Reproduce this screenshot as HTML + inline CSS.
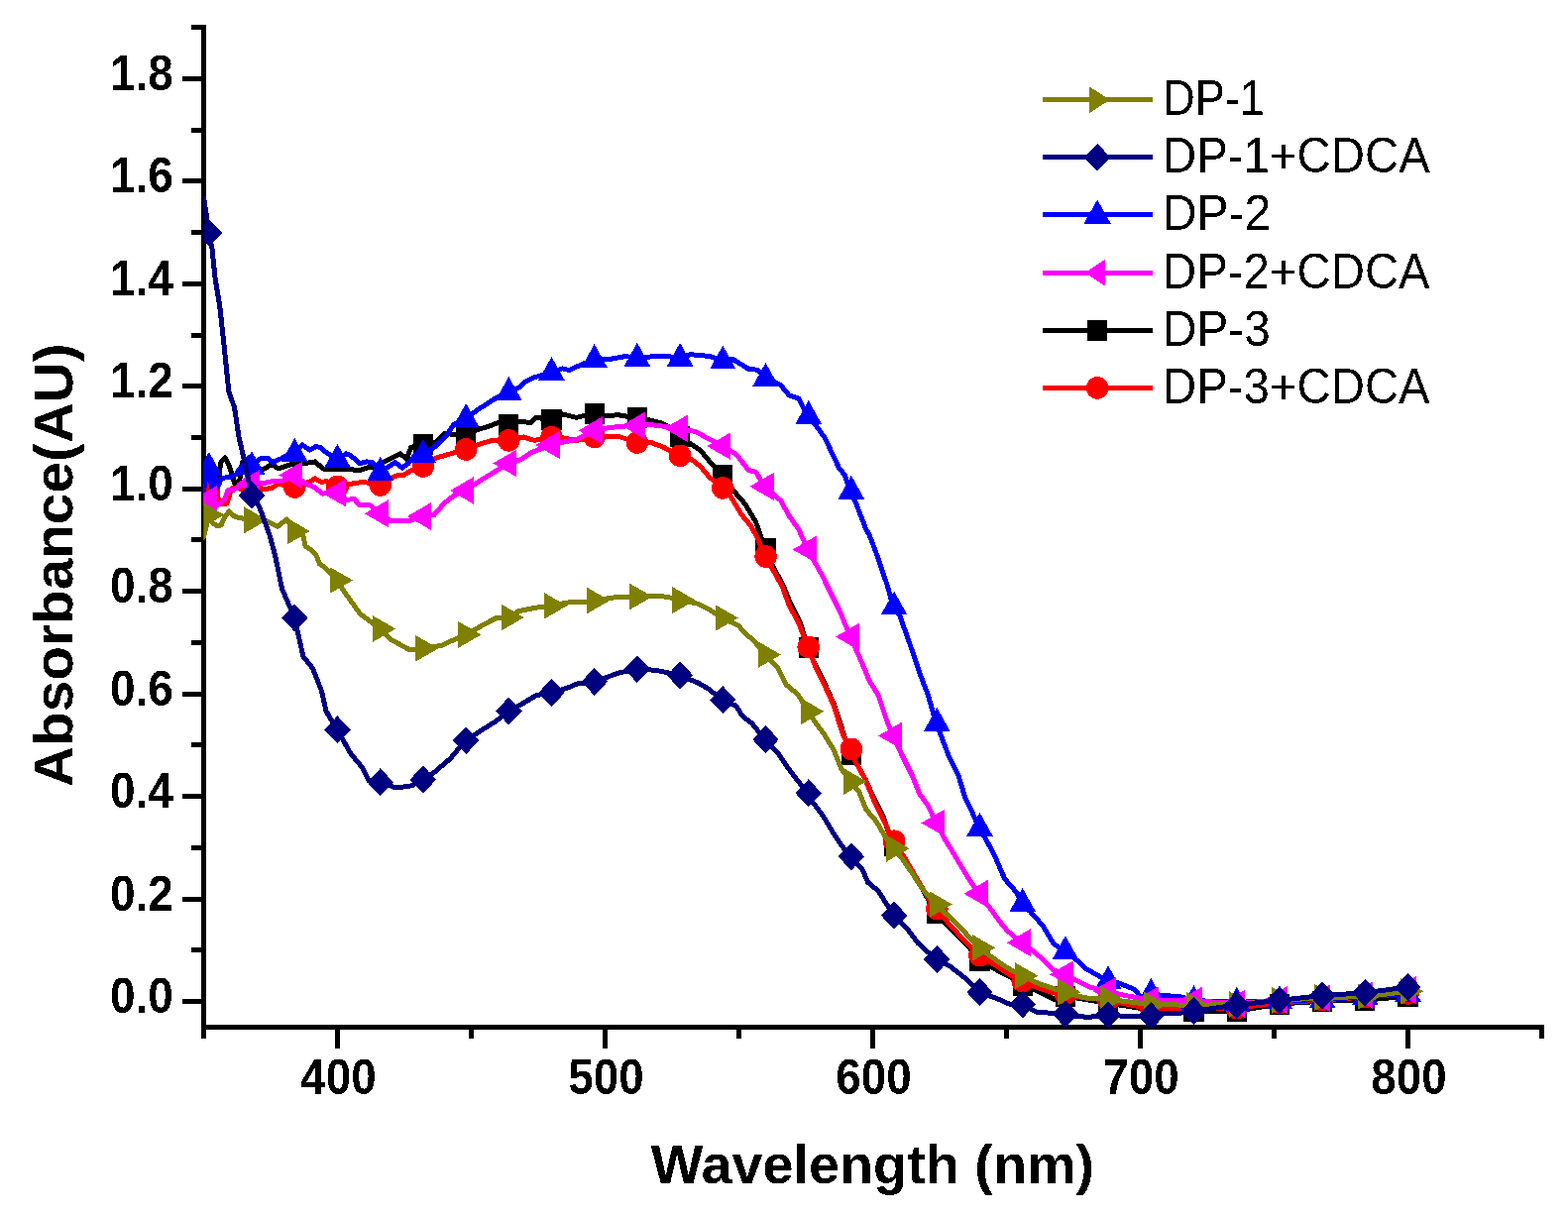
<!DOCTYPE html>
<html><head><meta charset="utf-8"><title>Absorbance spectra</title>
<style>html,body{margin:0;padding:0;background:#fff;}svg{display:block;}text{font-family:"Liberation Sans",Arial,sans-serif;}</style></head><body>
<svg width="1582" height="1227" viewBox="0 0 1582 1227" shape-rendering="crispEdges">
<rect width="1582" height="1227" fill="#fff"/>
<defs><clipPath id="pc"><rect x="205.3" y="20" width="1360" height="1016.5"/></clipPath><filter id="bint"><feComponentTransfer><feFuncA type="discrete" tableValues="0 1"/></feComponentTransfer></filter></defs>
<g stroke="#000" stroke-width="5" fill="none" stroke-linecap="butt">
<line x1="205.5" y1="25" x2="205.5" y2="1047.8"/>
<line x1="203" y1="1036.5" x2="1557.8" y2="1036.5"/>
<line x1="184" y1="1010.50" x2="206" y2="1010.50"/>
<line x1="193" y1="958.77" x2="206" y2="958.77"/>
<line x1="184" y1="907.04" x2="206" y2="907.04"/>
<line x1="193" y1="855.31" x2="206" y2="855.31"/>
<line x1="184" y1="803.58" x2="206" y2="803.58"/>
<line x1="193" y1="751.85" x2="206" y2="751.85"/>
<line x1="184" y1="700.12" x2="206" y2="700.12"/>
<line x1="193" y1="648.39" x2="206" y2="648.39"/>
<line x1="184" y1="596.66" x2="206" y2="596.66"/>
<line x1="193" y1="544.93" x2="206" y2="544.93"/>
<line x1="184" y1="493.20" x2="206" y2="493.20"/>
<line x1="193" y1="441.47" x2="206" y2="441.47"/>
<line x1="184" y1="389.74" x2="206" y2="389.74"/>
<line x1="193" y1="338.01" x2="206" y2="338.01"/>
<line x1="184" y1="286.28" x2="206" y2="286.28"/>
<line x1="193" y1="234.55" x2="206" y2="234.55"/>
<line x1="184" y1="182.82" x2="206" y2="182.82"/>
<line x1="193" y1="131.09" x2="206" y2="131.09"/>
<line x1="184" y1="79.36" x2="206" y2="79.36"/>
<line x1="193" y1="27.4" x2="208" y2="27.4"/>
<line x1="205.50" y1="1036" x2="205.50" y2="1047.8"/>
<line x1="340.50" y1="1036" x2="340.50" y2="1057.8"/>
<line x1="475.50" y1="1036" x2="475.50" y2="1047.8"/>
<line x1="610.50" y1="1036" x2="610.50" y2="1057.8"/>
<line x1="745.50" y1="1036" x2="745.50" y2="1047.8"/>
<line x1="880.50" y1="1036" x2="880.50" y2="1057.8"/>
<line x1="1015.50" y1="1036" x2="1015.50" y2="1047.8"/>
<line x1="1150.50" y1="1036" x2="1150.50" y2="1057.8"/>
<line x1="1285.50" y1="1036" x2="1285.50" y2="1047.8"/>
<line x1="1420.50" y1="1036" x2="1420.50" y2="1057.8"/>
<line x1="1555.50" y1="1036" x2="1555.50" y2="1047.8"/>
</g>
<g clip-path="url(#pc)">
<polyline points="205.5,478.0 212.0,472.0 216.0,486.0 218.4,489.0 221.5,478.0 222.5,467.0 227.0,461.5 231.5,470.5 234.0,479.0 237.0,489.0 241.7,485.0 244.5,466.0 250.0,472.0 254.0,479.0 258.0,474.0 266.8,473.0 274.0,468.6 281.0,473.0 293.7,468.6 307.2,467.6 317.9,465.9 326.0,473.0 335.9,473.9 350.2,473.0 361.8,474.8 369.9,472.1 376.2,471.2 389.6,465.0 396.8,461.4 404.0,457.8 410.2,463.2 414.7,451.5 426.6,448.6 440.0,446.2 448.8,437.3 469.7,440.0 480.7,433.8 493.1,430.3 501.9,426.7 512.9,428.4 525.0,425.0 535.6,426.7 540.9,421.4 556.0,423.4 567.4,417.9 581.6,421.4 588.7,419.6 599.2,417.4 609.9,419.6 624.1,418.8 642.3,421.7 652.4,423.2 666.5,426.7 677.2,432.0 685.4,440.1 696.1,447.5 706.9,454.7 715.8,465.5 728.6,479.3 740.9,496.0 751.7,508.5 762.5,526.4 771.7,553.6 781.0,574.0 790.0,590.0 798.0,610.0 807.0,627.0 814.9,653.8 824.0,674.0 833.0,692.0 842.0,712.0 851.0,740.0 858.0,761.5 864.0,770.0 873.0,786.0 883.0,808.0 892.0,826.0 901.1,853.8 912.0,866.0 925.0,887.0 935.0,905.0 944.3,921.0 953.0,931.0 978.0,956.0 987.4,969.0 1006.0,979.0 1024.0,988.0 1030.6,994.6 1047.0,1000.0 1065.0,1009.0 1073.7,1005.0 1116.8,1012.0 1161.3,1019.0 1204.5,1020.2 1247.7,1020.2 1290.9,1013.0 1334.1,1010.2 1377.3,1009.2 1420.5,1005.1" fill="none" stroke="#000000" stroke-width="5.0" stroke-linejoin="round" stroke-linecap="round"/>
<rect x="416.8" y="438.1" width="20.2" height="21" fill="#000000"/>
<rect x="460.0" y="429.5" width="20.2" height="21" fill="#000000"/>
<rect x="503.2" y="417.9" width="20.2" height="21" fill="#000000"/>
<rect x="546.4" y="412.9" width="20.2" height="21" fill="#000000"/>
<rect x="589.6" y="406.9" width="20.2" height="21" fill="#000000"/>
<rect x="632.8" y="411.2" width="20.2" height="21" fill="#000000"/>
<rect x="676.0" y="429.6" width="20.2" height="21" fill="#000000"/>
<rect x="719.2" y="468.8" width="20.2" height="21" fill="#000000"/>
<rect x="762.4" y="543.1" width="20.2" height="21" fill="#000000"/>
<rect x="805.6" y="643.3" width="20.2" height="21" fill="#000000"/>
<rect x="848.8" y="751.0" width="20.2" height="21" fill="#000000"/>
<rect x="892.0" y="843.3" width="20.2" height="21" fill="#000000"/>
<rect x="935.2" y="910.5" width="20.2" height="21" fill="#000000"/>
<rect x="978.4" y="958.5" width="20.2" height="21" fill="#000000"/>
<rect x="1021.6" y="984.1" width="20.2" height="21" fill="#000000"/>
<rect x="1064.8" y="994.5" width="20.2" height="21" fill="#000000"/>
<rect x="1108.0" y="1001.5" width="20.2" height="21" fill="#000000"/>
<rect x="1151.2" y="1005.5" width="20.2" height="21" fill="#000000"/>
<rect x="1194.4" y="1009.7" width="20.2" height="21" fill="#000000"/>
<rect x="1237.6" y="1009.7" width="20.2" height="21" fill="#000000"/>
<rect x="1280.8" y="1002.5" width="20.2" height="21" fill="#000000"/>
<rect x="1324.0" y="999.7" width="20.2" height="21" fill="#000000"/>
<rect x="1367.2" y="998.7" width="20.2" height="21" fill="#000000"/>
<rect x="1410.4" y="994.6" width="20.2" height="21" fill="#000000"/>
<polyline points="205.5,495.0 210.9,497.0 215.0,495.0 219.0,500.0 222.0,508.0 229.0,508.0 233.6,492.8 239.9,491.9 248.5,496.4 254.0,494.0 274.0,492.8 280.2,488.3 297.2,491.5 313.4,485.6 317.9,482.9 324.2,486.5 329.6,485.6 340.3,491.0 350.2,489.2 358.3,487.4 367.2,486.5 383.5,489.5 398.6,480.2 407.6,479.3 414.7,474.8 426.6,470.5 440.0,462.1 469.7,453.5 484.2,448.0 496.6,444.4 512.9,444.4 528.5,440.9 539.1,444.4 556.0,441.2 567.4,441.8 581.6,444.4 599.2,440.9 613.5,440.9 625.8,440.9 642.3,446.5 656.0,446.2 670.1,451.5 685.4,459.8 697.9,463.7 706.9,470.9 715.8,481.6 728.6,492.4 737.4,501.3 748.1,519.2 757.1,530.0 764.2,542.5 771.7,561.5 780.4,575.8 789.3,592.0 796.5,611.7 805.5,627.8 814.9,652.9 823.4,674.4 832.4,692.4 841.3,712.1 850.3,740.8 858.0,755.8 863.0,768.4 872.0,784.5 882.7,809.6 891.7,827.5 901.1,848.7 911.4,863.4 924.0,884.9 934.7,902.8 944.3,917.2 960.0,935.0 972.0,948.0 987.4,964.0 1006.0,975.0 1018.0,983.0 1030.6,990.0 1048.0,997.0 1060.0,1001.0 1073.7,1003.0 1095.0,1007.0 1116.8,1009.0 1161.3,1018.0 1204.5,1018.0 1247.7,1017.0 1290.9,1012.0 1334.1,1009.0 1377.3,1006.0 1420.5,1002.4" fill="none" stroke="#ff0000" stroke-width="5.0" stroke-linejoin="round" stroke-linecap="round"/>
<circle cx="210.9" cy="497.0" r="11.3" fill="#ff0000"/>
<circle cx="254.1" cy="494.0" r="11.3" fill="#ff0000"/>
<circle cx="297.3" cy="491.5" r="11.3" fill="#ff0000"/>
<circle cx="340.5" cy="491.0" r="11.3" fill="#ff0000"/>
<circle cx="383.7" cy="489.5" r="11.3" fill="#ff0000"/>
<circle cx="426.9" cy="470.5" r="11.3" fill="#ff0000"/>
<circle cx="470.1" cy="453.5" r="11.3" fill="#ff0000"/>
<circle cx="513.3" cy="444.4" r="11.3" fill="#ff0000"/>
<circle cx="556.5" cy="441.2" r="11.3" fill="#ff0000"/>
<circle cx="599.7" cy="440.9" r="11.3" fill="#ff0000"/>
<circle cx="642.9" cy="446.5" r="11.3" fill="#ff0000"/>
<circle cx="686.1" cy="459.8" r="11.3" fill="#ff0000"/>
<circle cx="729.3" cy="492.4" r="11.3" fill="#ff0000"/>
<circle cx="772.5" cy="561.5" r="11.3" fill="#ff0000"/>
<circle cx="815.7" cy="652.9" r="11.3" fill="#ff0000"/>
<circle cx="858.9" cy="755.8" r="11.3" fill="#ff0000"/>
<circle cx="902.1" cy="848.7" r="11.3" fill="#ff0000"/>
<circle cx="945.3" cy="917.2" r="11.3" fill="#ff0000"/>
<circle cx="988.5" cy="964.0" r="11.3" fill="#ff0000"/>
<circle cx="1031.7" cy="990.0" r="11.3" fill="#ff0000"/>
<circle cx="1074.9" cy="1003.0" r="11.3" fill="#ff0000"/>
<circle cx="1118.1" cy="1009.0" r="11.3" fill="#ff0000"/>
<circle cx="1161.3" cy="1018.0" r="11.3" fill="#ff0000"/>
<circle cx="1204.5" cy="1018.0" r="11.3" fill="#ff0000"/>
<circle cx="1247.7" cy="1017.0" r="11.3" fill="#ff0000"/>
<circle cx="1290.9" cy="1012.0" r="11.3" fill="#ff0000"/>
<circle cx="1334.1" cy="1009.0" r="11.3" fill="#ff0000"/>
<circle cx="1377.3" cy="1006.0" r="11.3" fill="#ff0000"/>
<circle cx="1420.5" cy="1002.4" r="11.3" fill="#ff0000"/>
<polyline points="205.5,495.0 208.0,480.0 211.0,471.4 213.5,492.0 216.5,481.0 219.5,492.0 223.0,483.0 227.0,482.0 233.0,481.0 238.0,479.0 241.0,474.0 245.7,469.0 251.0,462.0 254.1,470.7 262.0,463.0 270.0,462.0 275.7,467.0 279.7,464.3 284.3,462.5 288.0,460.0 297.2,457.5 305.0,449.0 312.5,454.2 318.8,450.6 323.3,451.5 329.6,456.9 340.3,463.4 349.3,457.8 353.8,459.6 362.7,467.6 369.9,465.9 376.2,466.7 383.5,476.4 393.2,470.3 398.6,466.7 405.8,472.1 412.0,467.6 419.2,458.7 426.6,458.5 438.0,451.5 450.6,439.1 457.7,428.5 469.7,422.4 480.7,414.3 498.4,402.8 512.9,395.5 523.2,391.3 530.3,385.1 539.1,380.7 546.2,378.9 556.0,375.5 567.4,371.9 574.5,373.6 581.6,370.1 599.2,362.6 617.0,362.1 631.2,359.5 642.3,361.3 661.2,359.5 670.1,359.1 685.4,361.3 696.6,357.7 716.1,359.5 728.6,364.1 739.2,362.4 755.3,372.3 764.2,373.2 771.7,381.5 787.5,388.4 796.5,399.2 805.5,401.8 814.9,419.5 823.4,429.6 832.4,442.2 846.7,472.6 852.0,478.9 858.0,495.3 864.6,510.3 873.6,533.6 877.2,540.0 884.3,558.7 895.1,590.2 901.1,612.0 907.6,620.7 918.4,651.1 927.4,678.0 936.3,701.3 944.3,729.3 949.1,741.5 958.0,764.8 967.0,782.7 974.1,806.0 981.3,820.4 987.4,835.3 993.9,845.5 1002.8,861.6 1013.6,886.7 1026.1,901.0 1030.6,911.6 1039.8,920.2 1052.2,934.3 1062.8,952.0 1073.7,959.6 1087.6,969.7 1094.7,976.8 1107.1,983.9 1116.8,989.7 1128.3,991.9 1144.2,998.1 1151.0,1006.0 1161.3,1002.5 1170.0,1004.0 1192.0,1006.0 1204.5,1009.5 1247.7,1011.4 1290.9,1009.6 1334.1,1008.7 1377.3,1005.8 1420.5,1002.3" fill="none" stroke="#0000ff" stroke-width="5.0" stroke-linejoin="round" stroke-linecap="round"/>
<polygon points="197.7,479.7 210.9,456.0 224.1,479.7" fill="#0000ff"/>
<polygon points="240.9,478.9 254.1,455.2 267.3,478.9" fill="#0000ff"/>
<polygon points="284.1,465.7 297.3,442.0 310.5,465.7" fill="#0000ff"/>
<polygon points="327.3,471.6 340.5,447.9 353.7,471.6" fill="#0000ff"/>
<polygon points="370.5,484.6 383.7,460.9 396.9,484.6" fill="#0000ff"/>
<polygon points="413.7,466.7 426.9,443.0 440.1,466.7" fill="#0000ff"/>
<polygon points="456.9,430.6 470.1,406.9 483.3,430.6" fill="#0000ff"/>
<polygon points="500.1,403.7 513.3,380.0 526.5,403.7" fill="#0000ff"/>
<polygon points="543.3,383.7 556.5,360.0 569.7,383.7" fill="#0000ff"/>
<polygon points="586.5,370.8 599.7,347.1 612.9,370.8" fill="#0000ff"/>
<polygon points="629.7,369.5 642.9,345.8 656.1,369.5" fill="#0000ff"/>
<polygon points="672.9,369.5 686.1,345.8 699.3,369.5" fill="#0000ff"/>
<polygon points="716.1,372.3 729.3,348.6 742.5,372.3" fill="#0000ff"/>
<polygon points="759.3,389.7 772.5,366.0 785.7,389.7" fill="#0000ff"/>
<polygon points="802.5,427.7 815.7,404.0 828.9,427.7" fill="#0000ff"/>
<polygon points="845.7,503.5 858.9,479.8 872.1,503.5" fill="#0000ff"/>
<polygon points="888.9,620.2 902.1,596.5 915.3,620.2" fill="#0000ff"/>
<polygon points="932.1,737.5 945.3,713.8 958.5,737.5" fill="#0000ff"/>
<polygon points="975.3,843.5 988.5,819.8 1001.7,843.5" fill="#0000ff"/>
<polygon points="1018.5,919.8 1031.7,896.1 1044.9,919.8" fill="#0000ff"/>
<polygon points="1061.7,967.8 1074.9,944.1 1088.1,967.8" fill="#0000ff"/>
<polygon points="1104.9,997.9 1118.1,974.2 1131.3,997.9" fill="#0000ff"/>
<polygon points="1148.1,1010.7 1161.3,987.0 1174.5,1010.7" fill="#0000ff"/>
<polygon points="1191.3,1017.7 1204.5,994.0 1217.7,1017.7" fill="#0000ff"/>
<polygon points="1234.5,1019.6 1247.7,995.9 1260.9,1019.6" fill="#0000ff"/>
<polygon points="1277.7,1017.8 1290.9,994.1 1304.1,1017.8" fill="#0000ff"/>
<polygon points="1320.9,1016.9 1334.1,993.2 1347.3,1016.9" fill="#0000ff"/>
<polygon points="1364.1,1014.0 1377.3,990.3 1390.5,1014.0" fill="#0000ff"/>
<polygon points="1407.3,1010.5 1420.5,986.8 1433.7,1010.5" fill="#0000ff"/>
<polyline points="205.5,503.5 210.9,504.0 217.5,510.7 226.4,504.4 230.0,494.6 235.4,494.6 244.4,488.3 248.8,483.0 254.0,488.0 266.8,487.4 275.7,485.6 284.7,485.6 297.2,479.4 309.0,488.3 317.9,491.8 325.1,498.1 340.7,497.3 350.2,504.4 357.4,503.5 362.7,509.8 373.5,509.8 384.2,518.2 394.1,525.9 403.1,525.9 412.0,525.9 427.2,521.0 438.0,519.6 448.0,508.0 458.0,500.0 469.7,495.0 484.2,485.1 493.1,479.8 512.9,467.5 525.0,463.9 535.6,456.8 556.0,449.0 567.4,446.2 581.6,443.5 599.2,434.3 611.7,432.0 625.8,430.3 642.3,429.4 656.0,428.5 670.1,430.3 685.4,432.4 701.9,435.6 712.3,441.3 728.6,450.2 742.7,458.3 755.3,474.4 762.5,476.2 771.7,490.9 787.5,504.9 796.5,521.0 805.5,533.6 814.9,554.5 828.8,579.4 837.7,597.4 846.7,615.3 858.0,642.5 868.2,665.5 877.2,687.0 886.1,701.3 895.1,728.2 901.1,742.4 909.6,761.2 920.4,782.7 927.5,800.7 936.5,813.2 944.3,830.4 952.6,845.5 963.4,863.4 974.1,881.3 987.4,901.8 999.1,916.6 1008.0,929.0 1016.8,939.6 1030.6,951.2 1041.6,959.1 1054.0,969.7 1062.8,978.6 1073.7,983.2 1082.3,987.4 1100.0,996.3 1116.8,999.8 1130.1,1003.4 1147.8,1006.9 1161.3,1009.0 1204.5,1009.7 1247.7,1012.8 1290.9,1009.0 1334.1,1007.1 1377.3,1004.2 1420.5,999.0" fill="none" stroke="#ff00ff" stroke-width="5.0" stroke-linejoin="round" stroke-linecap="round"/>
<polygon points="218.9,490.1 194.9,504.0 218.9,517.9" fill="#ff00ff"/>
<polygon points="262.1,474.1 238.1,488.0 262.1,501.9" fill="#ff00ff"/>
<polygon points="305.3,465.5 281.3,479.4 305.3,493.3" fill="#ff00ff"/>
<polygon points="348.5,483.4 324.5,497.3 348.5,511.2" fill="#ff00ff"/>
<polygon points="391.7,504.3 367.7,518.2 391.7,532.1" fill="#ff00ff"/>
<polygon points="434.9,507.1 410.9,521.0 434.9,534.9" fill="#ff00ff"/>
<polygon points="478.1,481.1 454.1,495.0 478.1,508.9" fill="#ff00ff"/>
<polygon points="521.3,453.6 497.3,467.5 521.3,481.4" fill="#ff00ff"/>
<polygon points="564.5,435.1 540.5,449.0 564.5,462.9" fill="#ff00ff"/>
<polygon points="607.7,420.4 583.7,434.3 607.7,448.2" fill="#ff00ff"/>
<polygon points="650.9,415.5 626.9,429.4 650.9,443.3" fill="#ff00ff"/>
<polygon points="694.1,418.4 670.1,432.3 694.1,446.2" fill="#ff00ff"/>
<polygon points="737.3,436.3 713.3,450.2 737.3,464.1" fill="#ff00ff"/>
<polygon points="780.5,477.0 756.5,490.9 780.5,504.8" fill="#ff00ff"/>
<polygon points="823.7,540.6 799.7,554.5 823.7,568.4" fill="#ff00ff"/>
<polygon points="866.9,628.6 842.9,642.5 866.9,656.4" fill="#ff00ff"/>
<polygon points="910.1,728.5 886.1,742.4 910.1,756.3" fill="#ff00ff"/>
<polygon points="953.3,816.5 929.3,830.4 953.3,844.3" fill="#ff00ff"/>
<polygon points="996.5,887.9 972.5,901.8 996.5,915.7" fill="#ff00ff"/>
<polygon points="1039.7,937.3 1015.7,951.2 1039.7,965.1" fill="#ff00ff"/>
<polygon points="1082.9,969.3 1058.9,983.2 1082.9,997.1" fill="#ff00ff"/>
<polygon points="1126.1,985.9 1102.1,999.8 1126.1,1013.7" fill="#ff00ff"/>
<polygon points="1169.3,995.1 1145.3,1009.0 1169.3,1022.9" fill="#ff00ff"/>
<polygon points="1212.5,995.8 1188.5,1009.7 1212.5,1023.6" fill="#ff00ff"/>
<polygon points="1255.7,998.9 1231.7,1012.8 1255.7,1026.7" fill="#ff00ff"/>
<polygon points="1298.9,995.1 1274.9,1009.0 1298.9,1022.9" fill="#ff00ff"/>
<polygon points="1342.1,993.2 1318.1,1007.1 1342.1,1021.0" fill="#ff00ff"/>
<polygon points="1385.3,990.3 1361.3,1004.2 1385.3,1018.1" fill="#ff00ff"/>
<polygon points="1428.5,985.1 1404.5,999.0 1428.5,1012.9" fill="#ff00ff"/>
<polyline points="205.5,542.0 208.0,532.0 210.9,519.5 214.0,527.0 219.0,531.0 223.0,530.0 226.5,522.0 231.0,516.0 235.0,520.0 239.0,522.0 243.0,522.0 246.0,524.0 254.0,524.8 262.0,524.0 269.5,526.0 280.2,531.3 289.2,524.0 297.2,535.5 306.0,541.0 308.0,551.0 314.0,555.0 319.0,560.0 322.5,569.0 329.0,573.5 340.3,585.5 347.0,596.5 363.0,619.0 383.5,634.5 395.0,645.6 413.4,655.8 426.6,654.3 445.4,651.3 469.7,640.4 493.5,627.3 500.5,623.7 512.9,623.0 523.5,616.6 541.2,613.1 556.0,611.3 577.0,607.2 590.0,607.8 599.2,606.0 617.4,603.2 627.8,602.0 642.3,602.0 664.3,601.3 674.7,602.6 685.4,605.6 703.4,609.1 716.5,615.6 728.6,623.5 745.1,631.3 753.0,640.4 760.0,645.6 771.7,660.6 784.0,672.6 792.9,690.6 805.5,701.3 814.9,717.8 823.4,730.0 830.8,739.7 841.3,756.9 848.7,775.6 858.0,788.5 866.6,798.9 873.8,816.8 884.5,829.3 891.7,841.9 901.1,856.2 909.6,865.2 920.4,881.3 931.1,897.5 944.3,912.6 960.2,927.3 970.8,937.9 987.4,956.3 1006.2,969.7 1016.8,976.8 1030.6,984.6 1048.7,992.7 1059.3,996.3 1073.7,1001.1 1094.7,1006.9 1116.8,1008.3 1161.3,1013.5 1204.5,1014.3 1247.7,1013.5 1290.9,1009.4 1334.1,1006.6 1377.3,1005.6 1420.5,1000.3" fill="none" stroke="#808000" stroke-width="5.0" stroke-linejoin="round" stroke-linecap="round"/>
<polygon points="203.2,506.1 226.4,519.5 203.2,532.9" fill="#808000"/>
<polygon points="246.4,511.4 269.6,524.8 246.4,538.2" fill="#808000"/>
<polygon points="289.6,522.6 312.8,536.0 289.6,549.4" fill="#808000"/>
<polygon points="332.8,572.1 356.0,585.5 332.8,598.9" fill="#808000"/>
<polygon points="376.0,621.1 399.2,634.5 376.0,647.9" fill="#808000"/>
<polygon points="419.1,640.9 442.4,654.3 419.1,667.7" fill="#808000"/>
<polygon points="462.4,627.0 485.6,640.4 462.4,653.8" fill="#808000"/>
<polygon points="505.6,609.6 528.8,623.0 505.6,636.4" fill="#808000"/>
<polygon points="548.8,597.9 572.0,611.3 548.8,624.7" fill="#808000"/>
<polygon points="592.0,592.6 615.2,606.0 592.0,619.4" fill="#808000"/>
<polygon points="635.1,588.6 658.4,602.0 635.1,615.4" fill="#808000"/>
<polygon points="678.4,592.2 701.6,605.6 678.4,619.0" fill="#808000"/>
<polygon points="721.6,610.1 744.8,623.5 721.6,636.9" fill="#808000"/>
<polygon points="764.8,647.2 788.0,660.6 764.8,674.0" fill="#808000"/>
<polygon points="808.0,704.4 831.2,717.8 808.0,731.2" fill="#808000"/>
<polygon points="851.1,775.1 874.4,788.5 851.1,801.9" fill="#808000"/>
<polygon points="894.4,842.8 917.6,856.2 894.4,869.6" fill="#808000"/>
<polygon points="937.6,899.2 960.8,912.6 937.6,926.0" fill="#808000"/>
<polygon points="980.8,942.9 1004.0,956.3 980.8,969.7" fill="#808000"/>
<polygon points="1024.0,971.2 1047.2,984.6 1024.0,998.0" fill="#808000"/>
<polygon points="1067.2,987.7 1090.4,1001.1 1067.2,1014.5" fill="#808000"/>
<polygon points="1110.4,994.9 1133.6,1008.3 1110.4,1021.7" fill="#808000"/>
<polygon points="1153.6,1000.1 1176.8,1013.5 1153.6,1026.9" fill="#808000"/>
<polygon points="1196.8,1000.9 1220.0,1014.3 1196.8,1027.7" fill="#808000"/>
<polygon points="1240.0,1000.1 1263.2,1013.5 1240.0,1026.9" fill="#808000"/>
<polygon points="1283.2,996.0 1306.4,1009.4 1283.2,1022.8" fill="#808000"/>
<polygon points="1326.4,993.2 1349.6,1006.6 1326.4,1020.0" fill="#808000"/>
<polygon points="1369.6,992.2 1392.8,1005.6 1369.6,1019.0" fill="#808000"/>
<polygon points="1412.8,986.9 1436.0,1000.3 1412.8,1013.7" fill="#808000"/>
<polyline points="205.7,200.3 211.0,234.9 214.1,251.6 217.1,281.2 221.7,308.6 226.2,349.6 230.8,395.2 236.5,411.2 241.0,440.8 246.7,465.9 254.1,499.8 261.5,511.0 272.0,540.0 277.5,560.0 284.5,594.0 297.2,623.4 306.0,662.7 315.3,674.0 324.4,697.0 329.0,717.5 340.3,736.4 354.0,760.8 365.5,774.5 372.4,788.0 383.5,789.3 399.7,795.0 415.7,792.8 426.6,786.6 438.5,779.0 454.5,765.4 469.7,747.1 484.0,738.0 500.0,728.0 512.9,717.5 523.5,712.2 541.2,701.6 556.0,699.0 573.0,693.9 582.2,690.0 599.2,687.9 617.4,681.5 625.2,678.9 642.3,675.1 661.7,676.3 670.8,678.2 685.4,681.5 703.4,688.6 713.8,694.5 728.6,706.2 742.5,712.1 749.0,722.5 758.9,730.0 771.7,746.1 785.0,760.0 795.0,775.0 805.0,788.0 814.9,800.3 820.0,809.6 830.8,824.0 841.5,841.9 848.7,852.6 858.0,864.3 870.2,877.7 875.6,890.3 886.3,899.2 895.3,913.6 901.1,923.7 910.6,932.6 915.9,937.9 926.5,952.0 944.3,968.0 958.4,975.0 974.3,987.4 987.4,1001.1 1004.4,1006.9 1020.4,1014.0 1030.6,1013.5 1045.1,1021.0 1055.8,1021.9 1073.7,1023.2 1087.6,1025.5 1098.2,1026.4 1116.8,1024.1 1137.2,1025.5 1140.0,1025.5 1161.3,1025.1 1175.0,1022.0 1192.0,1022.0 1204.5,1020.2 1247.7,1014.1 1290.9,1009.3 1334.1,1004.6 1377.3,1001.7 1420.5,996.0" fill="none" stroke="#000080" stroke-width="5.0" stroke-linejoin="round" stroke-linecap="round"/>
<polygon points="210.9,220.9 224.2,234.9 210.9,248.9 197.6,234.9" fill="#000080"/>
<polygon points="254.1,485.8 267.4,499.8 254.1,513.8 240.8,499.8" fill="#000080"/>
<polygon points="297.3,609.4 310.6,623.4 297.3,637.4 284.0,623.4" fill="#000080"/>
<polygon points="340.5,722.4 353.8,736.4 340.5,750.4 327.2,736.4" fill="#000080"/>
<polygon points="383.7,775.3 397.0,789.3 383.7,803.3 370.4,789.3" fill="#000080"/>
<polygon points="426.9,772.6 440.2,786.6 426.9,800.6 413.6,786.6" fill="#000080"/>
<polygon points="470.1,733.1 483.4,747.1 470.1,761.1 456.8,747.1" fill="#000080"/>
<polygon points="513.3,703.5 526.6,717.5 513.3,731.5 500.0,717.5" fill="#000080"/>
<polygon points="556.5,685.0 569.8,699.0 556.5,713.0 543.2,699.0" fill="#000080"/>
<polygon points="599.7,673.9 613.0,687.9 599.7,701.9 586.4,687.9" fill="#000080"/>
<polygon points="642.9,661.1 656.2,675.1 642.9,689.1 629.6,675.1" fill="#000080"/>
<polygon points="686.1,667.5 699.4,681.5 686.1,695.5 672.8,681.5" fill="#000080"/>
<polygon points="729.3,692.2 742.6,706.2 729.3,720.2 716.0,706.2" fill="#000080"/>
<polygon points="772.5,732.1 785.8,746.1 772.5,760.1 759.2,746.1" fill="#000080"/>
<polygon points="815.7,786.3 829.0,800.3 815.7,814.3 802.4,800.3" fill="#000080"/>
<polygon points="858.9,850.3 872.2,864.3 858.9,878.3 845.6,864.3" fill="#000080"/>
<polygon points="902.1,909.7 915.4,923.7 902.1,937.7 888.8,923.7" fill="#000080"/>
<polygon points="945.3,954.0 958.6,968.0 945.3,982.0 932.0,968.0" fill="#000080"/>
<polygon points="988.5,987.1 1001.8,1001.1 988.5,1015.1 975.2,1001.1" fill="#000080"/>
<polygon points="1031.7,999.5 1045.0,1013.5 1031.7,1027.5 1018.4,1013.5" fill="#000080"/>
<polygon points="1074.9,1009.2 1088.2,1023.2 1074.9,1037.2 1061.6,1023.2" fill="#000080"/>
<polygon points="1118.1,1010.1 1131.4,1024.1 1118.1,1038.1 1104.8,1024.1" fill="#000080"/>
<polygon points="1161.3,1011.1 1174.6,1025.1 1161.3,1039.1 1148.0,1025.1" fill="#000080"/>
<polygon points="1204.5,1006.2 1217.8,1020.2 1204.5,1034.2 1191.2,1020.2" fill="#000080"/>
<polygon points="1247.7,1000.1 1261.0,1014.1 1247.7,1028.1 1234.4,1014.1" fill="#000080"/>
<polygon points="1290.9,995.3 1304.2,1009.3 1290.9,1023.3 1277.6,1009.3" fill="#000080"/>
<polygon points="1334.1,990.6 1347.4,1004.6 1334.1,1018.6 1320.8,1004.6" fill="#000080"/>
<polygon points="1377.3,987.7 1390.6,1001.7 1377.3,1015.7 1364.0,1001.7" fill="#000080"/>
<polygon points="1420.5,982.0 1433.8,996.0 1420.5,1010.0 1407.2,996.0" fill="#000080"/>
</g>
<text transform="translate(174.89,1022.00) scale(0.9200,1.0000)" x="0" y="0" font-size="50" text-anchor="end" font-weight="bold" fill="#000" filter="url(#bint)">0.0</text>
<text transform="translate(174.89,918.54) scale(0.9200,1.0000)" x="0" y="0" font-size="50" text-anchor="end" font-weight="bold" fill="#000" filter="url(#bint)">0.2</text>
<text transform="translate(174.89,815.08) scale(0.9200,1.0000)" x="0" y="0" font-size="50" text-anchor="end" font-weight="bold" fill="#000" filter="url(#bint)">0.4</text>
<text transform="translate(174.89,711.62) scale(0.9200,1.0000)" x="0" y="0" font-size="50" text-anchor="end" font-weight="bold" fill="#000" filter="url(#bint)">0.6</text>
<text transform="translate(174.89,608.16) scale(0.9200,1.0000)" x="0" y="0" font-size="50" text-anchor="end" font-weight="bold" fill="#000" filter="url(#bint)">0.8</text>
<text transform="translate(174.89,504.70) scale(0.9200,1.0000)" x="0" y="0" font-size="50" text-anchor="end" font-weight="bold" fill="#000" filter="url(#bint)">1.0</text>
<text transform="translate(174.89,401.24) scale(0.9200,1.0000)" x="0" y="0" font-size="50" text-anchor="end" font-weight="bold" fill="#000" filter="url(#bint)">1.2</text>
<text transform="translate(174.89,297.78) scale(0.9200,1.0000)" x="0" y="0" font-size="50" text-anchor="end" font-weight="bold" fill="#000" filter="url(#bint)">1.4</text>
<text transform="translate(174.89,194.32) scale(0.9200,1.0000)" x="0" y="0" font-size="50" text-anchor="end" font-weight="bold" fill="#000" filter="url(#bint)">1.6</text>
<text transform="translate(174.89,90.86) scale(0.9200,1.0000)" x="0" y="0" font-size="50" text-anchor="end" font-weight="bold" fill="#000" filter="url(#bint)">1.8</text>
<text transform="translate(341.56,1104.00) scale(0.9160,1.0000)" x="0" y="0" font-size="50" text-anchor="middle" font-weight="bold" fill="#000" filter="url(#bint)">400</text>
<text transform="translate(611.56,1104.00) scale(0.9160,1.0000)" x="0" y="0" font-size="50" text-anchor="middle" font-weight="bold" fill="#000" filter="url(#bint)">500</text>
<text transform="translate(881.56,1104.00) scale(0.9160,1.0000)" x="0" y="0" font-size="50" text-anchor="middle" font-weight="bold" fill="#000" filter="url(#bint)">600</text>
<text transform="translate(1151.56,1104.00) scale(0.9160,1.0000)" x="0" y="0" font-size="50" text-anchor="middle" font-weight="bold" fill="#000" filter="url(#bint)">700</text>
<text transform="translate(1421.56,1104.00) scale(0.9160,1.0000)" x="0" y="0" font-size="50" text-anchor="middle" font-weight="bold" fill="#000" filter="url(#bint)">800</text>
<text transform="translate(656.80,1194.40) scale(0.9620,0.9650)" x="0" y="0" font-size="58" text-anchor="start" font-weight="bold" fill="#000" filter="url(#bint)">Wavelength (nm)</text>
<text transform="translate(73.20,793.99) rotate(-90) scale(0.9957,0.9580)" x="0" y="0" font-size="57" text-anchor="start" font-weight="bold" fill="#000" filter="url(#bint)">Absorbance(AU)</text>
<line x1="1052" y1="100.7" x2="1162.5" y2="100.7" stroke="#808000" stroke-width="5.0"/>
<polygon points="1098.9,87.2 1119.9,100.7 1098.9,114.2" fill="#808000"/>
<text transform="translate(1173.20,116.15) scale(0.9009,1.0000)" x="0" y="0" font-size="50" text-anchor="start" fill="#000" filter="url(#bint)">DP-1</text>
<line x1="1052" y1="158.8" x2="1162.5" y2="158.8" stroke="#000080" stroke-width="5.0"/>
<polygon points="1107.2,144.8 1120.5,158.8 1107.2,172.8 1093.9,158.8" fill="#000080"/>
<text transform="translate(1173.01,174.30) scale(0.9477,1.0000)" x="0" y="0" font-size="50" text-anchor="start" fill="#000" filter="url(#bint)">DP-1+CDCA</text>
<line x1="1052" y1="216.9" x2="1162.5" y2="216.9" stroke="#0000ff" stroke-width="5.0"/>
<polygon points="1093.7,225.5 1107.2,201.4 1120.7,225.5" fill="#0000ff"/>
<text transform="translate(1172.96,232.45) scale(0.9589,1.0000)" x="0" y="0" font-size="50" text-anchor="start" fill="#000" filter="url(#bint)">DP-2</text>
<line x1="1052" y1="275.1" x2="1162.5" y2="275.1" stroke="#ff00ff" stroke-width="5.0"/>
<polygon points="1115.1,261.6 1094.6,275.1 1115.1,288.6" fill="#ff00ff"/>
<text transform="translate(1173.01,290.60) scale(0.9470,1.0000)" x="0" y="0" font-size="50" text-anchor="start" fill="#000" filter="url(#bint)">DP-2+CDCA</text>
<line x1="1052" y1="333.2" x2="1162.5" y2="333.2" stroke="#000000" stroke-width="5.0"/>
<rect x="1097.1" y="322.8" width="20.2" height="21" fill="#000000"/>
<text transform="translate(1172.98,348.75) scale(0.9546,1.0000)" x="0" y="0" font-size="50" text-anchor="start" fill="#000" filter="url(#bint)">DP-3</text>
<line x1="1052" y1="391.4" x2="1162.5" y2="391.4" stroke="#ff0000" stroke-width="5.0"/>
<circle cx="1107.2" cy="391.4" r="11.3" fill="#ff0000"/>
<text transform="translate(1173.01,406.90) scale(0.9470,1.0000)" x="0" y="0" font-size="50" text-anchor="start" fill="#000" filter="url(#bint)">DP-3+CDCA</text>
</svg></body></html>
